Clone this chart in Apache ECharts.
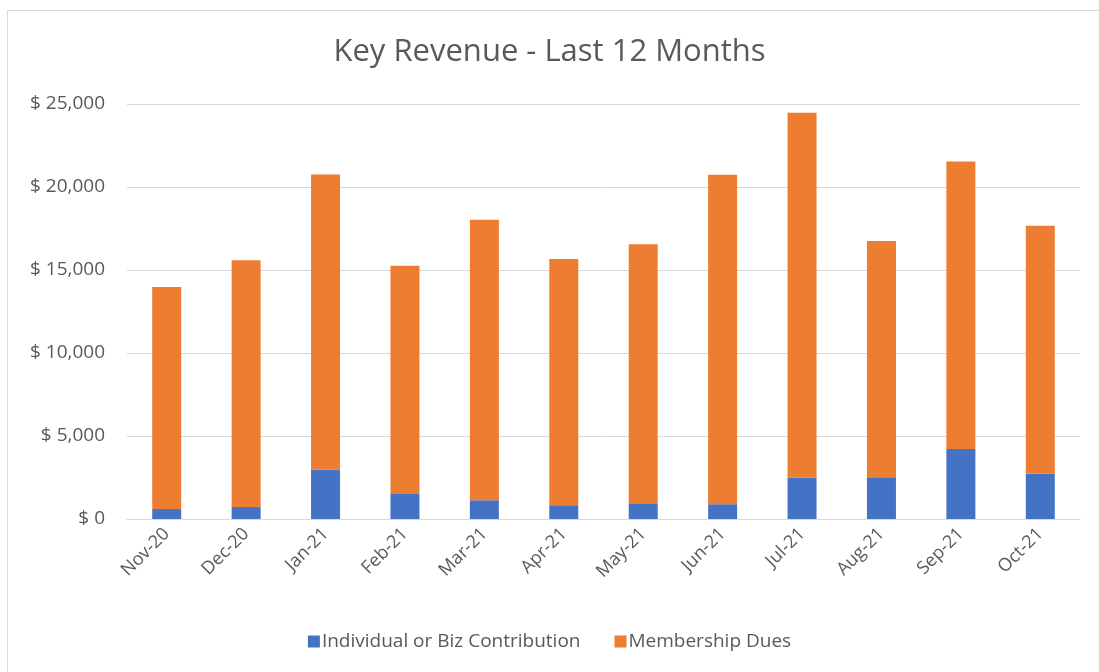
<!DOCTYPE html>
<html>
<head>
<meta charset="utf-8">
<script src="https://cdn.jsdelivr.net/npm/echarts@6/dist/echarts.min.js"></script>
<style>
  html, body { margin: 0; padding: 0; background: #fff; }
  #chart { width: 1099px; height: 672px; }
</style>
</head>
<body>
<div id="chart"></div>
<script>
// months shown on the x axis
const months = ['Nov-20', 'Dec-20', 'Jan-21', 'Feb-21', 'Mar-21', 'Apr-21',
  'May-21', 'Jun-21', 'Jul-21', 'Aug-21', 'Sep-21', 'Oct-21']
// blue part of each bar
const contribution = [600, 720, 2980, 1510, 1130, 830, 910, 890, 2500, 2520, 4210, 2720]
// orange part (stacked on top)
const dues = [13375, 14860, 17770, 13750, 16900, 14830, 15640, 19850, 21980, 14230, 17330, 14940]
const yTicks = [0, 5000, 10000, 15000, 20000, 25000]

const textColor = '#595959'
const font = '"Open Sans", "Noto Sans", sans-serif'

const chart = echarts.init(document.getElementById('chart'))

const option = {
  animation: false,
  backgroundColor: '#fff',
  title: {
    text: 'Key Revenue - Last 12 Months',
    left: 'center',
    top: 32,
    textStyle: { color: textColor, fontSize: 31, fontWeight: 'normal', fontFamily: font }
  },
  legend: {
    bottom: 16,
    left: 'center',
    itemWidth: 12,
    itemHeight: 12,
    itemGap: 34,
    icon: 'rect',
    textStyle: { color: textColor, fontSize: 19, fontFamily: font, padding: [0, 0, 0, -3] },
    data: ['Individual or Biz Contribution', 'Membership Dues']
  },
  grid: { left: 127, right: 19, top: 104, bottom: 153 },
  xAxis: {
    type: 'category',
    data: months,
    axisTick: { show: false },
    axisLine: { lineStyle: { color: '#d9d9d9', width: 1 } },
    axisLabel: {
      rotate: 45,
      color: textColor,
      fontSize: 18,
      fontFamily: font,
      margin: 12
    }
  },
  yAxis: {
    type: 'value',
    min: yTicks[0],
    max: yTicks[yTicks.length - 1],
    interval: 5000,
    axisLine: { show: false },
    axisTick: { show: false },
    splitLine: { lineStyle: { color: '#d9d9d9', width: 1 } },
    axisLabel: {
      color: textColor,
      fontSize: 19,
      fontFamily: font,
      margin: 22,
      formatter: v => '$ ' + v.toLocaleString('en-US')
    }
  },
  series: [
    {
      name: 'Individual or Biz Contribution',
      type: 'bar',
      stack: 'rev',
      barWidth: 29,
      itemStyle: { color: '#4472c4' },
      data: contribution
    },
    {
      name: 'Membership Dues',
      type: 'bar',
      stack: 'rev',
      barWidth: 29,
      itemStyle: { color: '#ed7d31' },
      data: dues
    }
  ],
  graphic: [
    {
      type: 'rect',
      shape: { x: 7.5, y: 10.5, width: 1200, height: 800 },
      style: { fill: 'none', stroke: '#d9d9d9', lineWidth: 1 },
      silent: true
    }
  ]
}

chart.setOption(option)
</script>
</body>
</html>
